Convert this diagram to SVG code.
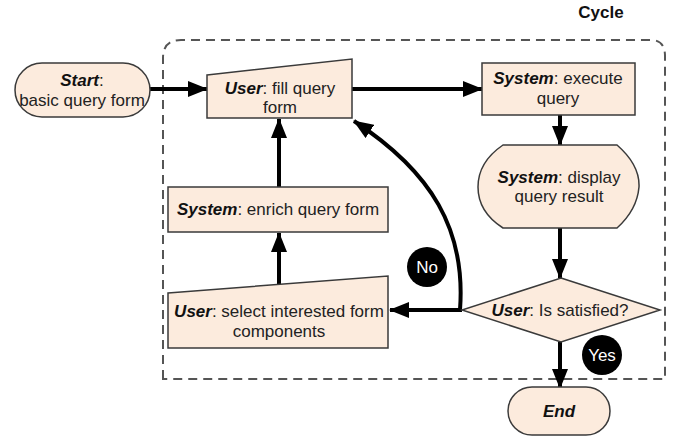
<svg xmlns="http://www.w3.org/2000/svg" width="685" height="442" viewBox="0 0 685 442">
<style>
.node{fill:#fcebdd;stroke:#3a3a3a;stroke-width:1.5}
.t{font-family:"Liberation Sans",Arial,sans-serif;font-size:17px;fill:#222;text-anchor:middle}
.b{font-weight:bold;font-style:italic;fill:#111}
.edge{fill:none;stroke:#000;stroke-width:4}
.badge{fill:#000}
.bt{font-family:"Liberation Sans",Arial,sans-serif;font-size:17px;fill:#fff;text-anchor:middle}
</style>
<defs>
<marker id="ah" markerUnits="userSpaceOnUse" markerWidth="20" markerHeight="16" refX="19" refY="8" orient="auto">
<path d="M0,0 L20,8 L0,16 Z" fill="#000"/>
</marker>
</defs>
<rect width="685" height="442" fill="#fff"/>
<g id="cycle">
<path d="M163,379 L163,58 Q163,40 181,40 L651,40 Q665,40 665,56 L665,379 Z" fill="none" stroke="#555" stroke-width="2" stroke-dasharray="9,6"/>
<text x="601" y="18" class="t" style="font-weight:bold;font-size:17px;fill:#111">Cycle</text>
</g>
<g id="connectors">
<line class="edge" x1="150" y1="89" x2="207" y2="89" marker-end="url(#ah)"/>
<line class="edge" x1="352" y1="89" x2="482" y2="89" marker-end="url(#ah)"/>
<line class="edge" x1="560" y1="115" x2="560" y2="145" marker-end="url(#ah)"/>
<line class="edge" x1="560" y1="228" x2="560" y2="278" marker-end="url(#ah)"/>
<line class="edge" x1="560" y1="342" x2="560" y2="388" marker-end="url(#ah)"/>
<line class="edge" x1="462" y1="310" x2="390" y2="310" marker-end="url(#ah)"/>
<path class="edge" d="M460,310 C466,230 432,172 354,121" marker-end="url(#ah)"/>
<line class="edge" x1="279" y1="284" x2="279" y2="233" marker-end="url(#ah)"/>
<line class="edge" x1="279" y1="187" x2="279" y2="119" marker-end="url(#ah)"/>
</g>
<g id="start">
<rect class="node" x="15" y="63" width="135" height="54" rx="27"/>
<text class="t" x="82" y="86"><tspan class="b">Start</tspan>:</text>
<text class="t" x="82" y="106">basic query form</text>
</g>
<g id="fill-form">
<polygon class="node" points="207,75 352,59 352,118 207,118"/>
<text class="t" x="280" y="94"><tspan class="b">User</tspan>: fill query</text>
<text class="t" x="280" y="113">form</text>
</g>
<g id="execute">
<rect class="node" x="482" y="63" width="153" height="52"/>
<text class="t" x="558" y="84"><tspan class="b">System</tspan>: execute</text>
<text class="t" x="558" y="104">query</text>
</g>
<g id="display">
<path class="node" d="M503,145 L617,145 Q640,165 639,187 Q637,210 617,228 L503,228 Q478,212 478,187 Q478,162 503,145 Z"/>
<text class="t" x="559" y="183"><tspan class="b">System</tspan>: display</text>
<text class="t" x="559" y="202">query result</text>
</g>
<g id="decision">
<polygon class="node" points="561,278 660,310 561,342 462,310"/>
<text class="t" x="560" y="316"><tspan class="b">User</tspan>: Is satisfied?</text>
</g>
<g id="end">
<rect class="node" x="508" y="387" width="102" height="48" rx="24"/>
<text class="t" x="559" y="417"><tspan class="b">End</tspan></text>
</g>
<g id="select">
<polygon class="node" points="168,293 388,276 388,348 168,348"/>
<text class="t" x="279" y="317"><tspan class="b">User</tspan>: select interested form</text>
<text class="t" x="279" y="337">components</text>
</g>
<g id="enrich">
<rect class="node" x="168" y="187" width="220" height="45"/>
<text class="t" x="278" y="215"><tspan class="b">System</tspan>: enrich query form</text>
</g>
<g id="no-badge">
<circle class="badge" cx="427" cy="267" r="20"/>
<text class="bt" x="427" y="273">No</text>
</g>
<g id="yes-badge">
<circle class="badge" cx="602" cy="355" r="20"/>
<text class="bt" x="602" y="361">Yes</text>
</g>
</svg>
